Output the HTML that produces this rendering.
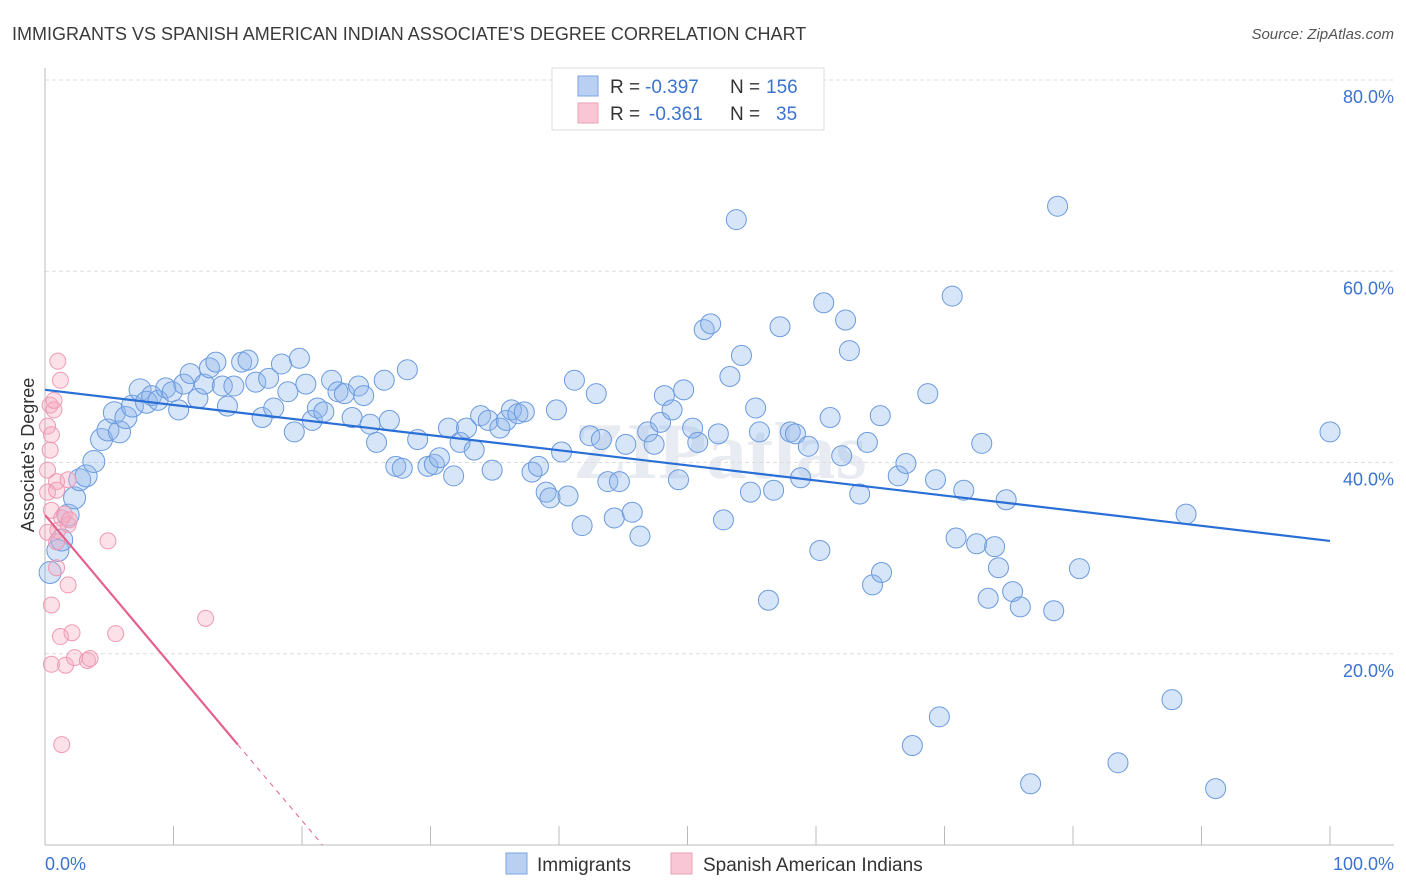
<!DOCTYPE html>
<html><head><meta charset="utf-8"><style>
body{margin:0;background:#fff;font-family:"Liberation Sans",sans-serif}
svg{display:block}
</style></head><body>
<svg id="chart" width="1406" height="892">
<text x="12" y="40" font-size="18" fill="#3a3a3a">IMMIGRANTS VS SPANISH AMERICAN INDIAN ASSOCIATE'S DEGREE CORRELATION CHART</text>
<text x="1394" y="39" font-size="15" fill="#555" font-style="italic" text-anchor="end">Source: ZipAtlas.com</text>
<text x="720" y="478" font-size="80" fill="#e8ecf2" text-anchor="middle" font-family="Liberation Serif,serif" font-weight="bold">ZIPatlas</text>
<g id="grid"></g><g id="axes"></g><g id="pts"></g><g id="trend"></g>
<text transform="translate(34,455) rotate(-90)" font-size="18" fill="#333" text-anchor="middle">Associate's Degree</text>
<text x="45" y="870" font-size="18" fill="#3b73d0">0.0%</text>
<text x="1394" y="870" font-size="18" fill="#3b73d0" text-anchor="end">100.0%</text>
<g>
<rect x="552" y="68" width="272" height="62" fill="#fff" stroke="#ddd"/>
<rect x="578" y="76" width="20" height="20" fill="#b9d0f2" stroke="#7aa3e0"/>
<rect x="578" y="103" width="20" height="20" fill="#f8c6d4" stroke="#eba0b6"/>
<text x="610" y="93" font-size="19" fill="#333">R =</text>
<text x="645" y="93" font-size="19" fill="#3b73d0">-0.397</text>
<text x="730" y="93" font-size="19" fill="#333">N =</text>
<text x="766" y="93" font-size="19" fill="#3b73d0">156</text>
<text x="610" y="120" font-size="19" fill="#333">R =</text>
<text x="649" y="120" font-size="19" fill="#3b73d0">-0.361</text>
<text x="730" y="120" font-size="19" fill="#333">N =</text>
<text x="776" y="120" font-size="19" fill="#3b73d0">35</text>
</g>
<g>
<rect x="506" y="853" width="21" height="21" fill="#b9d0f2" stroke="#7aa3e0"/>
<text x="537" y="871" font-size="19" fill="#333">Immigrants</text>
<rect x="671" y="853" width="21" height="21" fill="#f8c6d4" stroke="#eba0b6"/>
<text x="703" y="871" font-size="19" fill="#333">Spanish American Indians</text>
</g>
</svg>
<script>
const yTicks=[20,40,60,80];
const blueX=[0.4,1.0,1.3,1.8,2.3,2.7,3.2,3.8,4.4,4.9,5.8,5.4,6.3,6.8,7.4,7.9,8.3,8.8,9.4,9.9,10.4,10.8,11.3,11.9,12.4,12.8,13.3,13.8,14.2,14.7,15.3,15.8,16.4,16.9,17.4,17.8,18.4,18.9,19.4,19.8,20.3,20.8,21.2,21.7,22.3,22.8,23.3,23.9,24.4,24.8,25.3,25.8,26.4,26.8,27.3,27.8,28.2,29.0,29.8,30.3,30.7,31.4,31.8,32.3,32.8,33.4,33.9,34.5,34.8,35.4,35.9,36.3,36.8,37.3,37.9,38.4,39.0,39.3,39.8,40.2,40.7,41.2,41.8,42.4,42.9,43.3,43.8,44.3,44.7,45.2,45.7,46.3,46.9,47.4,47.9,48.2,48.8,49.3,49.7,50.4,50.8,51.3,51.8,52.4,52.8,53.3,53.8,54.2,54.9,55.3,55.6,56.3,56.7,57.2,58.0,58.4,58.8,59.4,60.3,60.6,61.1,62.0,62.3,62.6,63.4,64.0,64.4,65.1,65.0,66.4,67.0,67.5,68.7,69.3,69.6,70.6,70.9,71.5,72.5,72.9,73.4,73.9,74.2,74.8,75.3,75.9,78.5,78.8,80.5,83.5,87.7,88.8,91.1,76.7,100];
const blueY=[28.5,30.8,31.9,34.5,36.3,38.2,38.6,40.1,42.4,43.4,43.2,45.2,44.7,45.9,47.6,46.3,47.0,46.5,47.8,47.4,45.5,48.2,49.3,46.7,48.2,49.9,50.5,48.0,45.9,48.0,50.5,50.7,48.4,44.7,48.8,45.7,50.3,47.4,43.2,50.9,48.2,44.4,45.7,45.3,48.6,47.4,47.2,44.7,48.0,47.0,44.0,42.1,48.6,44.4,39.6,39.4,49.7,42.4,39.6,39.8,40.5,43.6,38.6,42.1,43.6,41.3,44.9,44.4,39.2,43.6,44.4,45.5,45.1,45.3,39.0,39.6,36.9,36.3,45.5,41.1,36.5,48.6,33.4,42.8,47.2,42.4,38.0,34.2,38.0,41.9,34.8,32.3,43.2,41.9,44.2,47.0,45.5,38.2,47.6,43.6,42.1,53.9,54.5,43.0,34.0,49.0,65.4,51.2,36.9,45.7,43.2,25.6,37.1,54.2,43.2,43.0,38.4,41.7,30.8,56.7,44.7,40.7,54.9,51.7,36.7,42.1,27.2,28.5,44.9,38.6,39.9,10.4,47.2,38.2,13.4,57.4,32.1,37.1,31.5,42.0,25.8,31.2,29.0,36.1,26.5,24.9,24.5,66.8,28.9,8.6,15.2,34.6,5.9,6.4,43.2];
const pinkX=[1.0,0.4,0.7,0.2,0.5,0.4,0.9,1.8,0.2,0.5,1.5,1.8,0.2,0.9,0.9,1.8,0.5,4.9,1.2,2.1,5.5,12.5,0.5,1.6,2.3,3.3,3.5,1.3,0.9,1.3,1.9,0.2,1.2,0.7,1.0];
const pinkY=[50.6,46.0,45.5,43.8,42.9,41.3,38.0,38.2,36.9,35.0,34.6,33.5,32.7,31.7,29.0,27.2,25.1,31.8,21.8,22.2,22.1,23.7,18.9,18.8,19.6,19.3,19.5,10.5,37.1,34.2,34.0,39.2,48.6,46.5,32.9];
const blueTrend=[[0,47.6],[100,31.8]];
const pinkTrend=[[0,34.5],[15.0,10.5]];
const pinkDash=[[15.0,10.5],[21.6,0]];
const NS="http://www.w3.org/2000/svg";
const sx=v=>45+v*12.85, sy=v=>845-v*9.5625;
function mk(t,a,p){const e=document.createElementNS(NS,t);for(const k in a)e.setAttribute(k,a[k]);p.appendChild(e);return e;}
const grid=document.getElementById('grid');
yTicks.forEach(t=>{
 const l=mk('line',{x1:45,x2:1394,y1:sy(t),y2:sy(t),stroke:'#ddd','stroke-dasharray':'4,3'},grid);
 
 
 const tx=mk('text',{x:1394,y:sy(t)+23,'font-size':18,fill:'#3b73d0','text-anchor':'end'},grid);
 tx.textContent=t.toFixed(1)+'%';
 
 
});
const axes=document.getElementById('axes');
mk('line',{x1:45,x2:45,y1:68,y2:845,stroke:'#bbb'},axes);
mk('line',{x1:45,x2:1394,y1:845,y2:845,stroke:'#bbb'},axes);
for(let i=0;i<=10;i++){const t=mk('line',{x1:sx(i*10),x2:sx(i*10),y1:826,y2:845,stroke:'#bbb'},axes);
 
 }
const pts=document.getElementById('pts');
blueX.forEach((x,i)=>{const c=mk('circle',{cx:sx(x),cy:sy(blueY[i]),r:x<8?11:10,fill:'rgba(140,180,235,0.35)',stroke:'#6a9ade','stroke-width':1},pts);
 
 });
pinkX.forEach((x,i)=>{const c=mk('circle',{cx:sx(x),cy:sy(pinkY[i]),r:8,fill:'rgba(245,170,192,0.35)',stroke:'#ef9ab3','stroke-width':1},pts);
 
 });
const tr=document.getElementById('trend');
const b=mk('line',{x1:sx(blueTrend[0][0]),y1:sy(blueTrend[0][1]),x2:sx(blueTrend[1][0]),y2:sy(blueTrend[1][1]),stroke:'#2a6fd6','stroke-width':2.2},tr);


const p=mk('line',{x1:sx(pinkTrend[0][0]),y1:sy(pinkTrend[0][1]),x2:sx(pinkTrend[1][0]),y2:sy(pinkTrend[1][1]),stroke:'#e5608a','stroke-width':2.2},tr);


const d=mk('line',{x1:sx(pinkDash[0][0]),y1:sy(pinkDash[0][1]),x2:sx(pinkDash[1][0]),y2:sy(pinkDash[1][1]),stroke:'#e5608a','stroke-width':1,'stroke-dasharray':'5,5'},tr);


</script>
</body></html>
